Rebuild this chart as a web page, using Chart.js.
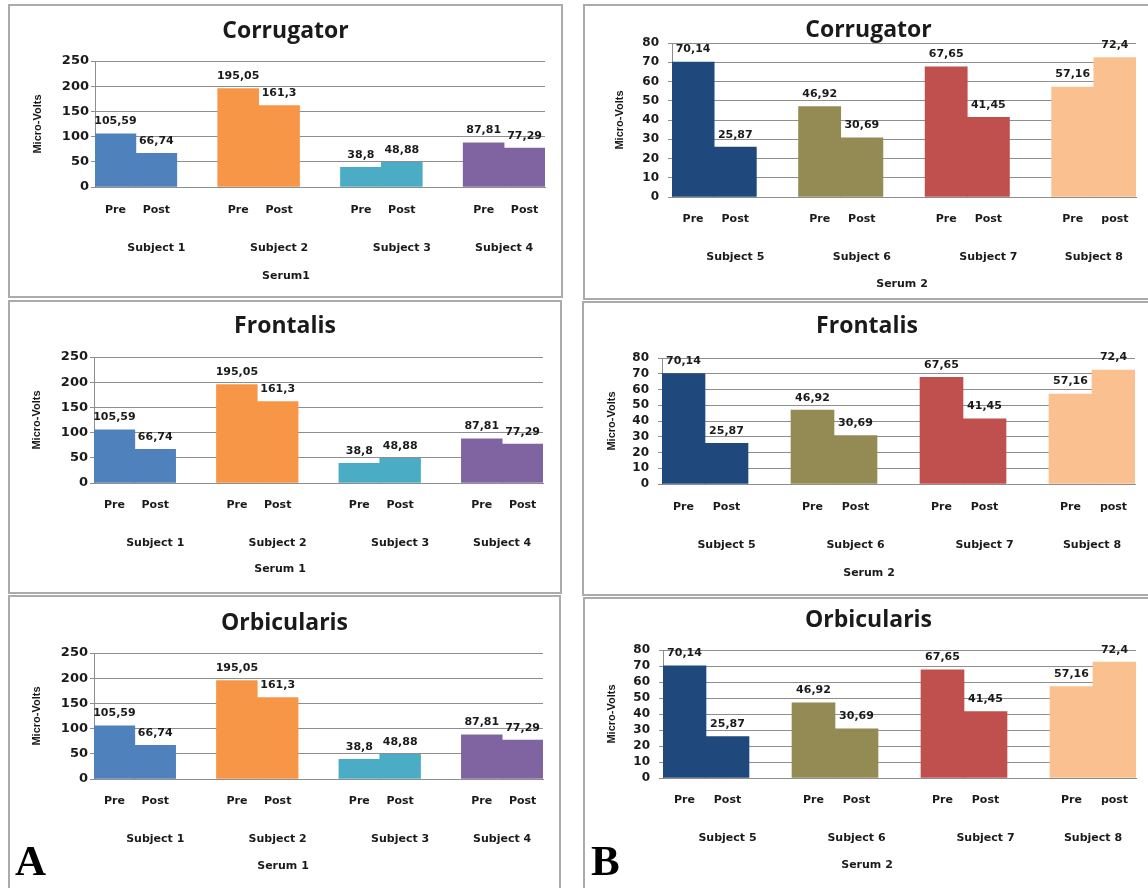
<!DOCTYPE html>
<html>
<head>
<meta charset="utf-8">
<script src="https://cdn.jsdelivr.net/npm/chart.js@4.4.1/dist/chart.umd.min.js"></script>
<style>
    body { margin: 0; background: #fff; width: 1148px; height: 888px; overflow: hidden; position: relative; }
    .panel { position: absolute; border: 2px solid #ababab; background: #fff; }
    .tag { position: absolute; font: bold 43px "Liberation Serif", serif; line-height: 43px; color: #000; z-index: 5; }
</style>
</head>
<body>
<div class="tag" style="left:15px; top:839px;">A</div>
<div class="tag" style="left:591px; top:839px;">B</div>
<script>
// data
const muscles = ['Corrugator', 'Frontalis', 'Orbicularis'];
const subjects1 = ['Subject 1', 'Subject 2', 'Subject 3', 'Subject 4'];
const subjects2 = ['Subject 5', 'Subject 6', 'Subject 7', 'Subject 8'];
const pre1 = [105.59, 195.05, 38.8, 87.81];
const post1 = [66.74, 161.3, 48.88, 77.29];
const pre2 = [70.14, 46.92, 67.65, 57.16];
const post2 = [25.87, 30.69, 41.45, 72.4];
const phase1 = [['Pre', 'Post'], ['Pre', 'Post'], ['Pre', 'Post'], ['Pre', 'Post']];
const phase2 = [['Pre', 'Post'], ['Pre', 'Post'], ['Pre', 'Post'], ['Pre', 'post']];
const serum1 = ['Serum1', 'Serum 1', 'Serum 1'];
const serum2 = ['Serum 2', 'Serum 2', 'Serum 2'];
const yTicks1 = [0, 50, 100, 150, 200, 250];
const yTicks2 = [0, 10, 20, 30, 40, 50, 60, 70, 80];

const colors1 = ['#4f81bd', '#f79646', '#4bacc6', '#8064a2'];
const colors2 = ['#1f497d', '#948a54', '#c0504d', '#fac090'];
const ink = '#1a1a1a';
const gridCol = '#8e8e8e';
const BW = 2;

// where the subject names sit, in bar slots
const subjectTickAt = [1, 4, 7, 9.5];

// panel geometry (page pixels)
const panels = [
    { box: [8, 4, 555, 294], area: [95, 545, 61, 187], title: 31, pre: 210, subj: 248, serum: 276, serumX: 286, yTitle: 38 },
    { box: [8, 300, 554, 294], area: [94, 543, 357, 483], title: 326, pre: 505, subj: 543, serum: 569, serumX: 280, yTitle: 37 },
    { box: [8, 595, 553, 300], area: [94, 543, 653, 779], title: 623, pre: 801, subj: 839, serum: 866, serumX: 283, yTitle: 37 },
    { box: [583, 4, 571, 296], area: [672, 1136, 43, 197], title: 30, pre: 219, subj: 257, serum: 284, serumX: 902, yTitle: 620 },
    { box: [582, 301, 570, 295], area: [662, 1135, 358, 484], title: 326, pre: 507, subj: 545, serum: 573, serumX: 869, yTitle: 612 },
    { box: [583, 597, 571, 300], area: [663, 1136, 650, 778], title: 620, pre: 800, subj: 838, serum: 865, serumX: 867, yTitle: 612 }
];

function slots(pre, post, phase, colors) {
    const labels = [], values = [], fills = [];
    pre.forEach((v, i) => {
        if (i > 0) { labels.push(''); values.push(null); fills.push('rgba(0,0,0,0)'); }
        labels.push(phase[i][0]); values.push(v); fills.push(colors[i]);
        labels.push(phase[i][1]); values.push(post[i]); fills.push(colors[i]);
    });
    return { labels, values, fills };
}

const valueLabels = {
    id: 'valueLabels',
    afterDatasetsDraw(chart) {
        const ctx = chart.ctx;
        const data = chart.data.datasets[0].data;
        ctx.save();
        ctx.font = 'bold 11px "DejaVu Sans"';
        ctx.fillStyle = ink;
        ctx.textAlign = 'center';
        ctx.textBaseline = 'alphabetic';
        chart.getDatasetMeta(0).data.forEach((bar, i) => {
            if (data[i] == null) return;
            ctx.fillText(String(data[i]).replace('.', ','), bar.x, bar.y - 9.5);
        });
        ctx.restore();
    }
};

const serumLabel = {
    id: 'serumLabel',
    afterDraw(chart, args, opts) {
        const ctx = chart.ctx;
        ctx.save();
        ctx.font = 'bold 11px "DejaVu Sans"';
        ctx.fillStyle = ink;
        ctx.textAlign = 'center';
        ctx.textBaseline = 'middle';
        ctx.fillText(opts.text, opts.x, opts.y);
        ctx.restore();
    }
};

function makeChart(p, muscle, serum, subjects, set, yTicks, yFont, yPad) {
    const ox = p.box[0] + BW, oy = p.box[1] + BW;
    const cw = p.box[2] - 2 * BW, ch = p.box[3] - 2 * BW;
    const wrap = document.createElement('div');
    wrap.className = 'panel';
    wrap.style.left = p.box[0] + 'px';
    wrap.style.top = p.box[1] + 'px';
    wrap.style.width = cw + 'px';
    wrap.style.height = ch + 'px';
    const canvas = document.createElement('canvas');
    wrap.appendChild(canvas);
    document.body.appendChild(wrap);

    const L = p.area[0] - ox, R = p.area[1] - ox, T = p.area[2] - oy, B = p.area[3] - oy;
    const yT = p.title - oy, yP = p.pre - oy, yS = p.subj - oy, yR = p.serum - oy;
    const side = cw - R;
    const tickFont = { family: 'DejaVu Sans', size: 11, weight: 'bold', lineHeight: 1.2 };

    new Chart(canvas, {
        type: 'bar',
        data: {
            labels: set.labels,
            datasets: [{
                data: set.values,
                backgroundColor: set.fills,
                borderWidth: 0,
                barPercentage: 1,
                categoryPercentage: 1
            }]
        },
        plugins: [valueLabels, serumLabel],
        options: {
            responsive: true,
            maintainAspectRatio: false,
            animation: false,
            layout: { padding: { left: side, right: side, top: 0, bottom: ch - (yS + 6.6) } },
            plugins: {
                legend: { display: false },
                tooltip: { enabled: false },
                title: {
                    display: true,
                    text: muscle,
                    color: ink,
                    font: { family: 'Open Sans', size: 23, weight: 'bold', lineHeight: 1 },
                    padding: { top: yT - 11.5, bottom: T - yT - 11.5 }
                },
                serumLabel: { text: serum, x: p.serumX - ox, y: yR }
            },
            scales: {
                x: {
                    type: 'category',
                    offset: true,
                    weight: 0,
                    grid: { display: false, drawTicks: false },
                    border: { display: true, color: gridCol },
                    ticks: { font: tickFont, color: ink, padding: yP - B - 6.6, autoSkip: false, maxRotation: 0 },
                    afterFit: s => { s.height = yP + 6.6 - B; }
                },
                x2: {
                    type: 'linear',
                    position: 'bottom',
                    weight: 1,
                    offset: false,
                    min: -0.5,
                    max: set.labels.length - 0.5,
                    grid: { display: false, drawTicks: false },
                    border: { display: false },
                    ticks: {
                        font: tickFont, color: ink, padding: yS - yP - 13.2, autoSkip: false, maxRotation: 0,
                        callback: (v, i) => subjects[i]
                    },
                    afterBuildTicks: s => { s.ticks = subjectTickAt.map(v => ({ value: v })); },
                    afterFit: s => { s.height = yS - yP; }
                },
                y: {
                    min: yTicks[0],
                    max: yTicks[yTicks.length - 1],
                    grid: { color: gridCol, drawTicks: true, tickLength: 4 },
                    border: { display: true, color: gridCol },
                    ticks: {
                        stepSize: yTicks[1] - yTicks[0],
                        autoSkip: false,
                        color: ink,
                        padding: yPad,
                        font: { family: 'DejaVu Sans', size: yFont, weight: 'bold' }
                    },
                    title: {
                        display: true,
                        text: 'Micro-Volts',
                        color: ink,
                        font: { family: 'Liberation Sans', size: 11, weight: 'bold', lineHeight: 1.2 },
                        padding: { top: p.yTitle - ox - side - 6.6, bottom: 0 }
                    },
                    afterFit: s => { s.width = L - side; }
                }
            }
        }
    });
}

const set1 = slots(pre1, post1, phase1, colors1);
const set2 = slots(pre2, post2, phase2, colors2);

muscles.forEach((m, i) => {
    makeChart(panels[i], m, serum1[i], subjects1, set1, yTicks1, 13, 2);
    makeChart(panels[i + 3], m, serum2[i], subjects2, set2, yTicks2, 12, 9);
});
</script>
</body>
</html>
